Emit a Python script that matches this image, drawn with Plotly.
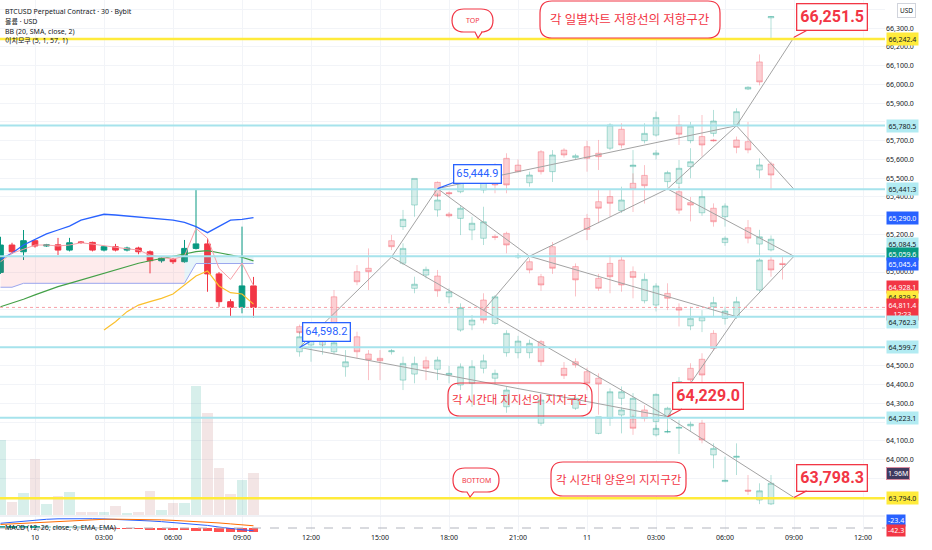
import plotly.graph_objects as go

# ---------------- data ----------------
real_times = ["2024-06-09 22:30", "2024-06-09 23:00", "2024-06-09 23:30", "2024-06-10 00:00",
              "2024-06-10 00:30", "2024-06-10 01:00", "2024-06-10 01:30", "2024-06-10 02:00",
              "2024-06-10 02:30", "2024-06-10 03:00", "2024-06-10 03:30", "2024-06-10 04:00",
              "2024-06-10 04:30", "2024-06-10 05:00", "2024-06-10 05:30", "2024-06-10 06:00",
              "2024-06-10 06:30", "2024-06-10 07:00", "2024-06-10 07:30", "2024-06-10 08:00",
              "2024-06-10 08:30", "2024-06-10 09:00", "2024-06-10 09:30"]
real_open = [64998, 65144, 65108, 65167, 65139, 65145, 65117, 65160, 65158, 65117, 65135, 65117,
             65128, 65108, 65060, 65068, 65055, 65126, 65150, 64990, 64842, 64812, 64926]
real_high = [65188, 65156, 65224, 65170, 65150, 65182, 65182, 65165, 65162, 65140, 65150, 65135,
             65135, 65115, 65080, 65075, 65171, 65441, 65180, 65000, 64855, 65242, 64974]
real_low = [64990, 65101, 65064, 65130, 65135, 65091, 65110, 65150, 65110, 65110, 65110, 65110,
            65095, 64993, 65050, 65043, 65050, 65120, 64895, 64815, 64762, 64780, 64755]
real_close = [65144, 65108, 65167, 65139, 65145, 65117, 65156, 65158, 65117, 65135, 65117, 65128,
              65108, 65060, 65074, 65055, 65126, 65150, 64990, 64842, 64812, 64926, 64811.4]
volume_m = [3.52, 0.60, 1.02, 2.62, 0.50, 0.88, 1.07, 0.16, 0.16, 0.16, 0.42, 0.08,
            0.13, 1.13, 0.22, 0.55, 0.58, 6.08, 4.77, 2.23, 0.97, 1.64, 1.96]

bb_upper = [65068, 65100, 65144, 65175, 65203, 65224, 65245, 65277, 65292, 65308, 65304, 65299,
            65295, 65290, 65284, 65277, 65265, 65242, 65210, 65245, 65277, 65281, 65290]
base_line = [64815, 64833, 64855, 64878, 64901, 64922, 64940, 64958, 64975, 64993, 65011, 65028,
             65047, 65060, 65071, 65082, 65096, 65109, 65114, 65103, 65091, 65079, 65059.6]
conv_line = [65055, 65100, 65121, 65144, 65144, 65139, 65144, 65156, 65149, 65139, 65132, 65124,
             65117, 65091, 65079, 65068, 65086, 65233, 65180, 65020, 64961, 65047, 64928.1]
lower_line = [64919, 64919, 64940, 64940, 64940, 64940, 64940, 64940, 64940, 64940, 64940, 64940,
              64940, 64940, 64940, 64940, 64940, 65045.4, 65045.4, 65045.4, 65045.4, 65045.4, 65045.4]
cloud_top = [65084.5, 65084.5, 65084.5, 65084.5, 65084.5, 65084.5, 65084.5, 65084.5, 65084.5,
             65084.5, 65084.5, 65084.5, 65084.5, 65084.5, 65084.5, 65084.5, 65084.5, 65084.5,
             65084.5, 65084.5, 65084.5, 65084.5, 65084.5]
lag_line = [64691, 64735, 64789, 64824, 64842, 64860, 64883, 64931, 64979, 65006, 64926, 64890,
            64883, 64829.2]  # from 03:00

macd_line = [40, 50, 60, 68, 74, 78, 80, 80, 79, 77, 74, 70, 66, 60, 54, 47, 40, 33, 22, 8, -5, -15, -23.4]
macd_signal = [30, 35, 42, 48, 55, 60, 65, 69, 72, 74, 75, 75, 74, 72, 69, 65, 61, 56, 50, 43, 35, 27, 18.9]
macd_hist = [10, 15, 18, 20, 19, 18, 15, 11, 7, 3, -1, -5, -8, -12, -15, -18, -21, -23, -28, -35, -40, -42, -42.3]

# projected (ghost) bars: (day time, open, high, low, close)
ghost_a = [
    ("10 11:30", 64709, 64720, 64670, 64677), ("10 11:30", 64575, 64682, 64549, 64655),
    ("10 12:00", 64611, 64682, 64522, 64664), ("10 12:30", 64611, 64700, 64560, 64690),
    ("10 12:30", 64660, 64670, 64600, 64645), ("10 13:00", 64868, 64904, 64700, 64726),
    ("10 13:00", 64575, 64640, 64560, 64623), ("10 13:30", 64495, 64584, 64442, 64522),
    ("10 14:00", 65002, 65037, 64930, 64948), ("10 14:00", 64655, 64682, 64540, 64575),
    ("10 14:30", 65020, 65126, 64904, 65002), ("10 14:30", 64563, 64584, 64424, 64531),
    ("10 15:00", 64540, 64584, 64424, 64527), ("10 15:30", 65167, 65198, 65117, 65135),
    ("10 15:30", 64575, 64590, 64560, 64580), ("10 16:00", 65242, 65331, 65224, 65281),
    ("10 16:00", 65047, 65153, 65037, 65126), ("10 16:00", 64424, 64549, 64371, 64513),
    ("10 16:30", 65357, 65499, 65295, 65499), ("10 16:30", 64913, 64975, 64887, 64935),
    ("10 16:30", 64456, 64549, 64407, 64513), ("10 17:00", 64984, 65029, 64966, 65014),
    ("10 17:00", 64527, 64549, 64424, 64487), ("10 17:30", 65478, 65483, 65400, 65405),
    ("10 17:30", 65331, 65420, 65295, 65384), ("10 17:30", 64979, 65011, 64868, 64900),
    ("10 17:30", 64482, 64549, 64424, 64531),
]
ghost_b = [
    ("10 18:00", 65424, 65430, 65400, 65417), ("10 18:00", 65309, 65320, 65290, 65299),
    ("10 18:00", 64868, 64913, 64833, 64895), ("10 18:00", 64451, 64500, 64407, 64460),
    ("10 18:30", 65428, 65508, 65420, 65481), ("10 18:30", 65286, 65357, 65197, 65340),
    ("10 18:30", 64691, 64833, 64682, 64811), ("10 18:30", 64398, 64513, 64371, 64495),
    ("10 19:00", 65224, 65295, 65170, 65260), ("10 19:00", 64718, 64771, 64690, 64744),
    ("10 19:00", 64407, 64530, 64282, 64496), ("10 19:30", 65437, 65508, 65420, 65491),
    ("10 19:30", 65180, 65348, 65144, 65268), ("10 19:30", 64851, 64887, 64726, 64744),
    ("10 19:30", 64487, 64560, 64460, 64527), ("10 20:00", 65562, 65580, 65420, 65464),
    ("10 20:00", 65190, 65200, 65170, 65185), ("10 20:00", 64726, 64877, 64718, 64868),
    ("10 20:00", 64434, 64480, 64400, 64460), ("10 20:30", 65606, 65633, 65420, 65464),
    ("10 20:30", 65206, 65215, 65100, 65144), ("10 20:30", 64570, 64690, 64549, 64673),
    ("10 20:30", 64282, 64390, 64250, 64371), ("10 21:00", 65570, 65600, 65530, 65535),
    ("10 21:00", 65080, 65100, 65070, 65085), ("10 21:00", 64570, 64660, 64540, 64632),
    ("10 21:30", 65476, 65535, 65455, 65517), ("10 21:30", 65055, 65073, 64993, 65011),
    ("10 21:30", 64570, 64640, 64540, 64620), ("10 22:00", 65641, 65650, 65520, 65535),
    ("10 22:00", 64975, 64990, 64900, 64931), ("10 22:00", 64629, 64638, 64500, 64522),
    ("10 22:00", 64194, 64350, 64180, 64318), ("10 22:30", 65535, 65650, 65480, 65624),
    ("10 22:30", 65135, 65160, 64990, 65020), ("10 23:00", 65650, 65660, 65610, 65624),
    ("10 23:00", 64487, 64520, 64430, 64448), ("10 23:30", 65610, 65630, 65600, 65620),
    ("10 23:30", 65029, 65046, 64870, 64958), ("10 23:30", 64522, 64540, 64490, 64505),
    ("10 23:30", 64274, 64350, 64265, 64327),
]
ghost_c = [
    ("11 00:00", 65668, 65700, 65535, 65606), ("11 00:00", 65286, 65310, 65170, 65227),
    ("11 00:00", 64469, 64490, 64370, 64407), ("11 00:30", 65633, 65704, 65544, 65615),
    ("11 00:30", 65375, 65437, 65260, 65340), ("11 00:30", 64966, 64990, 64900, 64913),
    ("11 00:30", 64434, 64460, 64240, 64403), ("11 00:30", 64140, 64229, 64135, 64229),
    ("11 01:00", 65660, 65793, 65650, 65784), ("11 01:00", 65402, 65437, 65295, 65366),
    ("11 01:00", 65046, 65090, 64887, 64975), ("11 01:00", 64220, 64380, 64180, 64362),
    ("11 01:30", 65761, 65793, 65660, 65677), ("11 01:30", 65327, 65455, 65315, 65384),
    ("11 01:30", 65064, 65082, 64895, 64931), ("11 01:30", 64327, 64390, 64290, 64362),
    ("11 01:30", 64238, 64282, 64140, 64265), ("11 02:00", 65562, 65650, 65475, 65570),
    ("11 02:00", 65473, 65526, 65320, 65441), ("11 02:00", 65002, 65030, 64860, 64971),
    ("11 02:00", 64229, 64355, 64194, 64327), ("11 02:00", 64217, 64240, 64132, 64167),
    ("11 02:30", 65700, 65793, 65686, 65739), ("11 02:30", 65515, 65570, 65365, 65460),
    ("11 02:30", 64847, 64993, 64833, 64961), ("11 02:30", 64265, 64290, 64203, 64220),
    ("11 03:00", 65730, 65855, 65722, 65824), ("11 03:00", 65625, 65650, 65600, 65635),
    ("11 03:00", 64824, 64940, 64790, 64926), ("11 03:00", 64203, 64353, 64160, 64348),
    ("11 03:00", 64132, 64185, 64123, 64167), ("11 03:30", 65482, 65540, 65450, 65530),
    ("11 03:30", 64886, 64940, 64797, 64860), ("11 03:30", 64229, 64282, 64150, 64274),
    ("11 03:30", 64146, 64160, 64140, 64150),
]
ghost_d = [
    ("11 04:00", 65784, 65837, 65677, 65734), ("11 04:00", 65473, 65597, 65440, 65553),
    ("11 04:00", 65428, 65455, 65310, 65330), ("11 04:00", 64811, 64833, 64710, 64797),
    ("11 04:00", 64398, 64440, 64355, 64416), ("11 04:00", 64167, 64210, 64030, 64172),
    ("11 04:30", 65700, 65800, 65686, 65778), ("11 04:30", 65562, 65660, 65500, 65588),
    ("11 04:30", 65370, 65400, 65270, 65357), ("11 04:30", 64713, 64815, 64690, 64753),
    ("11 04:30", 64487, 64514, 64407, 64425), ("11 04:30", 64180, 64203, 64150, 64189),
    ("11 05:00", 65722, 65837, 65615, 65677), ("11 05:00", 65316, 65437, 65300, 65402),
    ("11 05:00", 64740, 64797, 64680, 64762), ("11 05:00", 64535, 64567, 64407, 64451),
    ("11 05:00", 64194, 64212, 64087, 64105), ("11 05:30", 65739, 65864, 65722, 65805),
    ("11 05:30", 65704, 65710, 65695, 65700), ("11 05:30", 65340, 65366, 65242, 65268),
    ("11 05:30", 64815, 64868, 64762, 64837), ("11 05:30", 64673, 64690, 64580, 64593),
    ("11 05:30", 64025, 64087, 63954, 64060), ("11 06:00", 65295, 65366, 65242, 65352),
    ("11 06:00", 65157, 65190, 65140, 65180), ("11 06:00", 64753, 64815, 64720, 64792),
    ("11 06:00", 63883, 64016, 63880, 63890), ("11 06:30", 65784, 65873, 65775, 65855),
    ("11 06:30", 65704, 65722, 65633, 65664), ("11 06:30", 64762, 64868, 64750, 64842),
    ("11 06:30", 64012, 64087, 63918, 64018), ("11 07:00", 65975, 65990, 65970, 65985),
    ("11 07:00", 65695, 65800, 65633, 65651), ("11 07:00", 65236, 65277, 65153, 65180),
    ("11 07:00", 63838, 63918, 63812, 63832), ("11 07:30", 66120, 66160, 65995, 66013),
    ("11 07:30", 65544, 65606, 65500, 65571), ("11 07:30", 65149, 65225, 65082, 65188),
    ("11 07:30", 64904, 65073, 64895, 65064), ("11 07:30", 63785, 63874, 63763, 63834),
    ("11 08:00", 66355, 66365, 66247, 66362), ("11 08:00", 65576, 65588, 65437, 65517),
    ("11 08:00", 65118, 65195, 65110, 65175), ("11 08:00", 65064, 65082, 64975, 65011),
    ("11 08:00", 63764, 63918, 63758, 63874), ("11 08:30", 65046, 65082, 64960, 65040),
]

# projection paths (drawn lines)
path_1_t = ["10 11:30", "10 15:30", "10 17:30", "11 06:30", "11 09:00"]
path_1_p = [64598.2, 65080, 65444.9, 65780, 66251.5]
path_2_t = ["10 15:30", "11 03:30", "11 09:00"]
path_2_p = [65080, 64229.0, 63798.3]
path_3_t = ["10 11:30", "11 03:30"]
path_3_p = [64598.2, 64229.0]
path_4_t = ["10 17:30", "10 21:30", "11 06:30", "11 09:00"]
path_4_p = [65444.9, 65084, 64762, 65084]
path_5_t = ["10 19:30", "10 21:30", "11 03:30", "11 06:30", "11 09:00"]
path_5_p = [64796, 65084, 65443, 65780, 65441]
path_6_t = ["11 03:30", "11 09:00"]
path_6_p = [65443, 65084]
path_7_t = ["11 03:30", "11 06:30"]
path_7_p = [64229.0, 64762]

cyan_levels = [65780.5, 65441.3, 65084.5, 64762.3, 64599.7, 64223.1]
yellow_levels = [66242.4, 63794.0]
last_price = 64811.4

axis_label_values = [66242.4, 65780.5, 65441.3, 65290.0, 65084.5, 65059.6, 65045.4, 64928.1,
                     64829.2, 64811.4, 64762.3, 64599.7, 64223.1, 63794.0]
axis_label_texts = ["66,242.4", "65,780.5", "65,441.3", "65,290.0", "65,084.5", "65,059.6",
                    "65,045.4", "64,928.1", "64,829.2", "64,811.4<br>12:23", "64,762.3",
                    "64,599.7", "64,223.1", "63,794.0"]
price_ticks = [66300, 66200, 66100, 66000, 65900, 65700, 65600, 65500, 65400, 65200, 65000,
               64500, 64400, 64300, 64100, 64000, 63700]
time_ticks = ["2024-06-10 00:00", "2024-06-10 03:00", "2024-06-10 06:00", "2024-06-10 09:00",
              "2024-06-10 12:00", "2024-06-10 15:00", "2024-06-10 18:00", "2024-06-10 21:00",
              "2024-06-11 00:00", "2024-06-11 03:00", "2024-06-11 06:00", "2024-06-11 09:00",
              "2024-06-11 12:00"]
time_labels = ["10", "03:00", "06:00", "09:00", "12:00", "15:00", "18:00", "21:00",
               "11", "03:00", "06:00", "09:00", "12:00"]

# ---------------- layout helpers ----------------
W, H = 932, 550
MR, MB = 47, 18
PW, PH = W - MR, H - MB
UP, DOWN = "#089981", "#f23645"
RED = "#f23645"
FONT = "Noto Sans, Noto Sans CJK KR, sans-serif"


def full(t):
    d, hm = t.split(" ")
    return f"2024-06-{d} {hm}"


def px(x):
    return x / PW


def py(y):
    return 1 - y / PH


def bubble(x0, y0, x1, y1, r, tip=None):
    # rounded speech bubble path in paper coords (pixel input)
    pts = f"M{px(x0 + r)},{py(y0)} L{px(x1 - r)},{py(y0)} Q{px(x1)},{py(y0)} {px(x1)},{py(y0 + r)} "
    pts += f"L{px(x1)},{py(y1 - r)} Q{px(x1)},{py(y1)} {px(x1 - r)},{py(y1)} "
    if tip:
        tx, ty = tip
        pts += f"L{px(tx + 4)},{py(y1)} L{px(tx)},{py(ty)} L{px(tx - 3)},{py(y1)} "
    pts += f"L{px(x0 + r)},{py(y1)} Q{px(x0)},{py(y1)} {px(x0)},{py(y1 - r)} "
    pts += f"L{px(x0)},{py(y0 + r)} Q{px(x0)},{py(y0)} {px(x0 + r)},{py(y0)} Z"
    return pts


fig = go.Figure()

# volume
vol_colors = ["rgba(8,153,129,0.16)" if c >= o else "rgba(190,110,110,0.18)"
              for o, c in zip(real_open, real_close)]
fig.add_trace(go.Bar(x=real_times, y=volume_m, marker_color=vol_colors, marker_line_width=0,
                     yaxis="y3", width=30 * 60 * 1000 * 0.92))

# ichimoku cloud
fig.add_trace(go.Scatter(x=real_times[:17], y=cloud_top[:17], mode="lines", line_width=0))
fig.add_trace(go.Scatter(x=real_times[:17], y=lower_line[:17], mode="lines", fill="tonexty",
                         fillcolor="rgba(242,54,69,0.10)", line=dict(color="#9aa6ee", width=1)))
fig.add_trace(go.Scatter(x=real_times[16:], y=cloud_top[16:], mode="lines", line_width=0))
fig.add_trace(go.Scatter(x=real_times[16:], y=lower_line[16:], mode="lines", fill="tonexty",
                         fillcolor="rgba(120,200,220,0.18)", line=dict(color="#9aa6ee", width=1)))

# ghost candles
for grp in (ghost_a, ghost_b, ghost_c, ghost_d):
    fig.add_trace(go.Candlestick(
        x=[full(g[0]) for g in grp], open=[g[1] for g in grp], high=[g[2] for g in grp],
        low=[g[3] for g in grp], close=[g[4] for g in grp],
        increasing=dict(line=dict(color="rgba(8,153,129,0.30)", width=1),
                        fillcolor="rgba(8,153,129,0.17)"),
        decreasing=dict(line=dict(color="rgba(242,54,69,0.30)", width=1),
                        fillcolor="rgba(242,54,69,0.24)"),
        whiskerwidth=0))

# projection lines
for t, p in [(path_1_t, path_1_p), (path_2_t, path_2_p), (path_3_t, path_3_p), (path_4_t, path_4_p),
             (path_5_t, path_5_p), (path_6_t, path_6_p), (path_7_t, path_7_p)]:
    fig.add_trace(go.Scatter(x=[full(v) for v in t], y=p, mode="lines",
                             line=dict(color="#a3a3a3", width=1)))

# indicator lines
fig.add_trace(go.Scatter(x=real_times, y=bb_upper, mode="lines", line=dict(color="#2962ff", width=1.3)))
fig.add_trace(go.Scatter(x=real_times, y=base_line, mode="lines", line=dict(color="#43a047", width=1.2)))
fig.add_trace(go.Scatter(x=real_times[9:], y=lag_line, mode="lines", line=dict(color="#fbc02d", width=1.2)))
fig.add_trace(go.Scatter(x=real_times, y=conv_line, mode="lines", line=dict(color="#f7a0a8", width=1)))

# real candles
fig.add_trace(go.Candlestick(
    x=real_times, open=real_open, high=real_high, low=real_low, close=real_close,
    increasing=dict(line=dict(color=UP, width=1), fillcolor=UP),
    decreasing=dict(line=dict(color=DOWN, width=1), fillcolor=DOWN), whiskerwidth=0))

# MACD
hist_colors = []
for i, v in enumerate(macd_hist):
    prev = macd_hist[i - 1] if i else v
    if v >= 0:
        hist_colors.append("#26a69a" if v >= prev else "#b2dfdb")
    else:
        hist_colors.append("#ff5252" if v < prev else "#ffcdd2")
fig.add_trace(go.Bar(x=real_times, y=macd_hist, marker_color=hist_colors, marker_line_width=0,
                     yaxis="y2", width=30 * 60 * 1000 * 0.8))
fig.add_trace(go.Scatter(x=real_times, y=macd_line, mode="lines", yaxis="y2",
                         line=dict(color="#2962ff", width=1)))
fig.add_trace(go.Scatter(x=real_times, y=macd_signal, mode="lines", yaxis="y2",
                         line=dict(color="#ff6d00", width=1)))

shapes = []
for lv in cyan_levels:
    shapes.append(dict(type="line", xref="paper", x0=0, x1=1, yref="y", y0=lv, y1=lv,
                       line=dict(color="#a6e3ec", width=2)))
for lv in yellow_levels:
    shapes.append(dict(type="line", xref="paper", x0=0, x1=1, yref="y", y0=lv, y1=lv,
                       line=dict(color="#ffeb3b", width=2.5)))
shapes.append(dict(type="line", xref="paper", x0=0, x1=1, yref="y", y0=last_price, y1=last_price,
                   line=dict(color="#f7a0a8", width=1, dash="dot")))
shapes.append(dict(type="line", xref="paper", x0=0, x1=1, yref="y2", y0=0, y1=0,
                   line=dict(color="#b2b5be", width=1, dash="dash")))
shapes.append(dict(type="line", xref="paper", x0=0, x1=1, yref="paper", y0=py(516), y1=py(516),
                   line=dict(color="#e0e3eb", width=1)))

# speech bubbles
for box, tip, fill in [((452, 9, 493, 32), (478, 38), "white"),
                       ((540, 1, 720, 38), None, "white"),
                       ((448, 383, 592, 416), None, "rgba(255,255,255,0)"),
                       ((453, 468, 499, 492), (470, 497), "white"),
                       ((551, 462, 686, 496), None, "white")]:
    shapes.append(dict(type="path", xref="paper", yref="paper", path=bubble(*box, 12, tip),
                       line=dict(color=RED, width=1.2), fillcolor=fill, layer="above"))

ann = []
# top-left legend
for i, txt in enumerate(["BTCUSD Perpetual Contract · 30 · Bybit", "볼륨 · USD",
                         "BB (20, SMA, close, 2)", "이치모쿠 (5, 1, 57, 1)"]):
    ann.append(dict(x=px(3), y=py(12 + i * 9.5), xref="paper", yref="paper", text=txt,
                    showarrow=False, xanchor="left", yanchor="middle",
                    font=dict(size=7, color="#131722")))
ann.append(dict(x=px(3), y=py(527), xref="paper", yref="paper",
                text="MACD (12, 26, close, 9, EMA, EMA)", showarrow=False, xanchor="left",
                yanchor="middle", font=dict(size=7, color="#131722")))
ann.append(dict(x=px(907), y=py(10), xref="paper", yref="paper", text="USD",
                showarrow=False, xanchor="center", yanchor="middle", bordercolor="#d1d4dc",
                borderwidth=1, borderpad=2, bgcolor="white", font=dict(size=6.5, color="#131722")))

# right axis labels
label_bg = ["#ffeb3b", "#b2ebf2", "#b2ebf2", "#2962ff", "#b2ebf2", UP, "#2962ff", RED,
            "#ffeb3b", RED, "#b2ebf2", "#b2ebf2", "#b2ebf2", "#ffeb3b"]
label_fg = ["#131722", "#131722", "#131722", "white", "#131722", "white", "white", "white",
            "#131722", "white", "#131722", "#131722", "#131722", "#131722"]
label_shift = [0, 0, 0, 0, 12, 6.5, 0, -1.5, 6.8, -2, -5, 0, 0, 0]
for v, t, bg, fg, sh in zip(axis_label_values, axis_label_texts, label_bg, label_fg, label_shift):
    ann.append(dict(x=1, y=v, xref="paper", yref="y", text=t, showarrow=False, xanchor="left",
                    yanchor="middle", bgcolor=bg, borderpad=1.5, yshift=sh, xshift=1,
                    font=dict(size=7, color=fg)))
ann.append(dict(x=1, y=volume_m[-1], xref="paper", yref="y3", text="1.96M", showarrow=False,
                xanchor="left", yanchor="middle", bgcolor="#3f3a5e", bordercolor="#d98ca0",
                borderwidth=1, borderpad=1, xshift=1, font=dict(size=7, color="white")))
ann.append(dict(x=1, y=py(520.7), xref="paper", yref="paper", text=f"{macd_line[-1]}",
                showarrow=False, xanchor="left", yanchor="middle", bgcolor="#2962ff", borderpad=1,
                xshift=1, font=dict(size=7, color="white")))
ann.append(dict(x=1, y=py(530), xref="paper", yref="paper", text=f"{macd_hist[-1]}",
                showarrow=False, xanchor="left", yanchor="middle", bgcolor=RED, borderpad=1,
                xshift=1, font=dict(size=7, color="white")))

# price callouts
for xt, yv, txt, ax, ay, col, size, bold in [
        ("11 09:00", path_1_p[-1], "66,251.5", 38, -20, RED, 16, True),
        ("11 03:30", path_2_p[1], "64,229.0", 40, -21, RED, 16, True),
        ("11 09:00", path_2_p[-1], "63,798.3", 38, -20, RED, 16, True),
        ("10 17:30", path_1_p[2], "65,444.9", 40, -15, "#2962ff", 11, False),
        ("10 11:30", path_1_p[0], "64,598.2", 27, -15, "#2962ff", 11, False)]:
    ann.append(dict(x=full(xt), y=yv, xref="x", yref="y", text=f"<b>{txt}</b>" if bold else txt,
                    showarrow=True, ax=ax, ay=ay, arrowhead=0, arrowwidth=1.2, arrowcolor=col,
                    standoff=0, bgcolor="white", bordercolor=col, borderwidth=1.3,
                    borderpad=3 if bold else 2,
                    font=dict(size=size, color=col, family="Roboto, Noto Sans")))

# bubble texts
for cx, cy, txt, size in [(472.5, 20.5, "TOP", 7), (630, 19.5, "각 일별차트 저항선의 저항구간", 12.5),
                          (520, 399.5, "각 시간대 지지선의 지지구간", 11.5), (476, 480, "BOTTOM", 7),
                          (618.5, 479, "각 시간대 양운의 지지구간", 11.5)]:
    ann.append(dict(x=px(cx), y=py(cy), xref="paper", yref="paper", text=txt, showarrow=False,
                    xanchor="center", yanchor="middle", font=dict(size=size, color=RED)))

fig.update_layout(
    width=W, height=H, margin=dict(l=0, r=MR, t=0, b=MB),
    paper_bgcolor="white", plot_bgcolor="white", showlegend=False,
    font=dict(family=FONT, size=7, color="#131722"),
    shapes=shapes, annotations=ann, barmode="overlay", bargap=0,
    xaxis=dict(type="date", range=["2024-06-09 22:28:42", "2024-06-11 12:57:23"],
               rangeslider=dict(visible=False), anchor="y2",
               tickvals=time_ticks, ticktext=time_labels, showgrid=True, gridcolor="#f2f4f8",
               ticks="", showline=False, zeroline=False, tickfont=dict(size=7, color="#131722")),
    yaxis=dict(domain=[1 - 515 / PH, 1], range=[63705, 66450], side="right",
               tickvals=price_ticks, ticktext=[f"{v:,.1f}" for v in price_ticks],
               showgrid=True, gridcolor="#f2f4f8", zeroline=False, ticks="",
               minor=dict(tickmode="linear", tick0=0, dtick=100, showgrid=True, gridcolor="#f2f4f8"),
               tickfont=dict(size=7, color="#131722")),
    yaxis2=dict(domain=[0, 1 - 516 / PH], range=[-34, 102], showticklabels=False,
                showgrid=False, zeroline=False),
    yaxis3=dict(overlaying="y", range=[0, 24.2], visible=False),
)

fig.write_html("out.html", config={"displayModeBar": False},
               post_script="document.body.style.margin='0';")
